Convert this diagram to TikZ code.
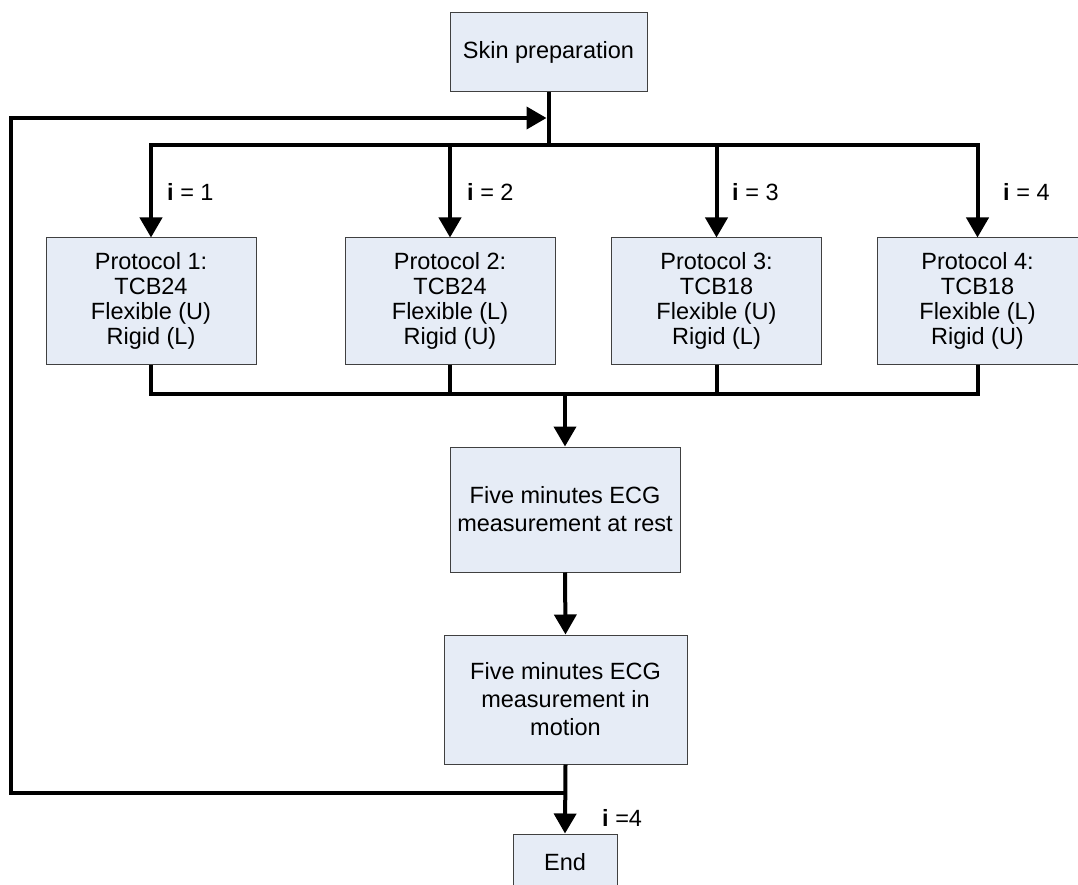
\documentclass[tikz,border=0pt]{standalone}
\usepackage{fontspec}
\setmainfont{Liberation Sans}
\usetikzlibrary{arrows.meta}
\definecolor{boxfill}{RGB}{230,236,246}
\definecolor{boxline}{RGB}{64,64,64}
\tikzset{
  box/.style={draw=boxline, line width=1pt, fill=boxfill, inner sep=0pt, align=center},
  pbox/.style={box, minimum width=210pt, minimum height=126pt, font=\fontsize{23.5}{25}\selectfont},
  ebox/.style={box, font=\fontsize{23.5}{28}\selectfont},
  conn/.style={line width=4pt},
  arr/.style={conn, -{Triangle[length=20pt,width=22pt]}},
  lbl/.style={anchor=west, inner sep=0pt, font=\fontsize{23.5}{25}\selectfont}
}
\begin{document}
\begin{tikzpicture}[x=1pt,y=-1pt]
\useasboundingbox (0,0) rectangle (1078,885);
\clip (0,0) rectangle (1078,885);
\fill[white] (0,0) rectangle (1078,885);

\node[ebox, minimum width=197pt, minimum height=79pt] (skin) at (548.5,52.5) {Skin preparation};

\node[pbox] (p1) at (151,301) {Protocol 1:\\TCB24\\Flexible (U)\\Rigid (L)};
\node[pbox] (p2) at (450,301) {Protocol 2:\\TCB24\\Flexible (L)\\Rigid (U)};
\node[pbox] (p3) at (716.5,301) {Protocol 3:\\TCB18\\Flexible (U)\\Rigid (L)};
\node[pbox, minimum width=201pt] (p4) at (977.5,301) {Protocol 4:\\TCB18\\Flexible (L)\\Rigid (U)};

\node[ebox, minimum width=230pt, minimum height=125pt] (m1) at (565,509.5) {Five minutes ECG\\measurement at rest};
\node[ebox, minimum width=243pt, minimum height=129pt] (m2) at (565.5,699.5) {Five minutes ECG\\measurement in\\motion};
\node[ebox, minimum width=104pt, minimum height=56pt] (end) at (565,862) {End};

\coordinate (top) at (548.5,145);
\coordinate (bot) at (566,394);
\coordinate (j) at (565.5,793);
\coordinate (lb) at (11,793);
\coordinate (lt) at (11,118);

% top distribution
\draw[conn] (skin.south) -- (top);
\draw[conn] ([xshift=-2pt]p1.north |- top) -- ([xshift=2pt]p4.north |- top);
\foreach \p in {p1,p2,p3,p4} {
  \draw[arr] (\p.north |- top) -- (\p.north);
}
% bottom collection
\foreach \p in {p1,p2,p3,p4} {
  \draw[conn] (\p.south) -- (\p.south |- bot);
}
\draw[conn] ([xshift=-2pt]p1.south |- bot) -- ([xshift=2pt]p4.south |- bot);
\draw[arr] (m1.north |- bot) -- (m1.north);
\draw[arr] (m1.south) -- (m2.north);
\draw[arr] (m2.south) -- (end.north);
% loop back
\draw[conn, line join=miter] (j) -- (lb) -- (lt) -- ++(2,0);
\draw[arr, shorten >=2pt] (lt) -- (skin.south |- lt);

% labels
\node[lbl] (l1) at (167,192) {\textbf{i} = 1};
\node[lbl] (l2) at (467,192) {\textbf{i} = 2};
\node[lbl] (l3) at (732,192) {\textbf{i} = 3};
\node[lbl] (l4) at (1003,192) {\textbf{i} = 4};
\node[lbl] (l5) at (602,818) {\textbf{i} =4};
\end{tikzpicture}
\end{document}
